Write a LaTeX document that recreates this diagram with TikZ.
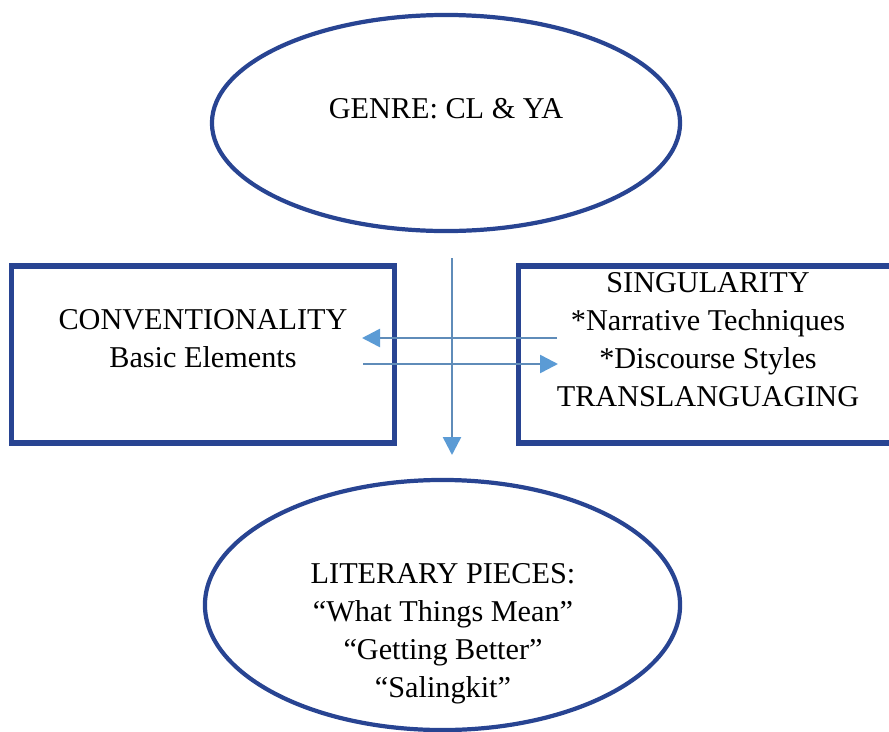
\documentclass[tikz,border=0pt]{standalone}
\usepackage{fontspec}
\setmainfont{Liberation Serif}
\usetikzlibrary{shapes.geometric,arrows.meta,positioning}
\definecolor{frameblue}{RGB}{40,68,146}
\definecolor{flowline}{RGB}{95,140,185}
\definecolor{flowhead}{RGB}{91,155,213}

\begin{document}
\begin{tikzpicture}[
  x=0.025cm, y=-0.025cm,
  font=\fontsize{21.5}{27}\selectfont,
  oval/.style ={draw=frameblue,line width=3pt,ellipse,inner sep=0pt},
  box/.style  ={draw=frameblue,line width=3.6pt,rectangle,inner sep=0pt},
  txt/.style  ={align=center,inner sep=0pt},
  flow/.style ={draw=flowline,line width=1.8pt,
                -{Triangle[length=4.5mm,width=4.5mm,color=flowhead]}}]

\useasboundingbox (0,0) rectangle (889,731);

% ---------- Top : genre ----------
\node[oval,minimum width=11.7cm,minimum height=5.4cm] (genre) at (446,123) {};
\node[txt] (genretxt) at (446,109) {GENRE: CL \& YA};

% ---------- Middle : the two boxes ----------
\node[box,minimum width=9.55cm,minimum height=4.425cm] (conv) at (203,354.5) {};
\node[txt] (convtxt) at (203,339) {CONVENTIONALITY\\Basic Elements};

\node[box,minimum width=10.025cm,minimum height=4.425cm] (sing) at (719.5,354.5) {};
\node[txt] (singtxt) at (708,340)
  {SINGULARITY\\*Narrative Techniques\\*Discourse Styles\\TRANSLANGUAGING};

% ---------- Bottom : literary pieces ----------
\node[oval,minimum width=11.875cm,minimum height=6.25cm] (lit) at (442.5,605) {};
\node[txt] (littxt) at (443,634)
  {LITERARY PIECES:\\``What Things Mean''\\``Getting Better''\\``Salingkit''};

% ---------- Arrows ----------
\coordinate (vtop) at (452,258);
\coordinate (vend) at (452,455);
\coordinate (lfrom) at (557,338);
\coordinate (lto)   at (362,338);
\coordinate (rfrom) at (363,364);
\coordinate (rto)   at (558,364);

\draw[flow] (vtop) -- (vend);
\draw[flow] (lfrom) -- (lto);
\draw[flow] (rfrom) -- (rto);

\end{tikzpicture}
\end{document}
